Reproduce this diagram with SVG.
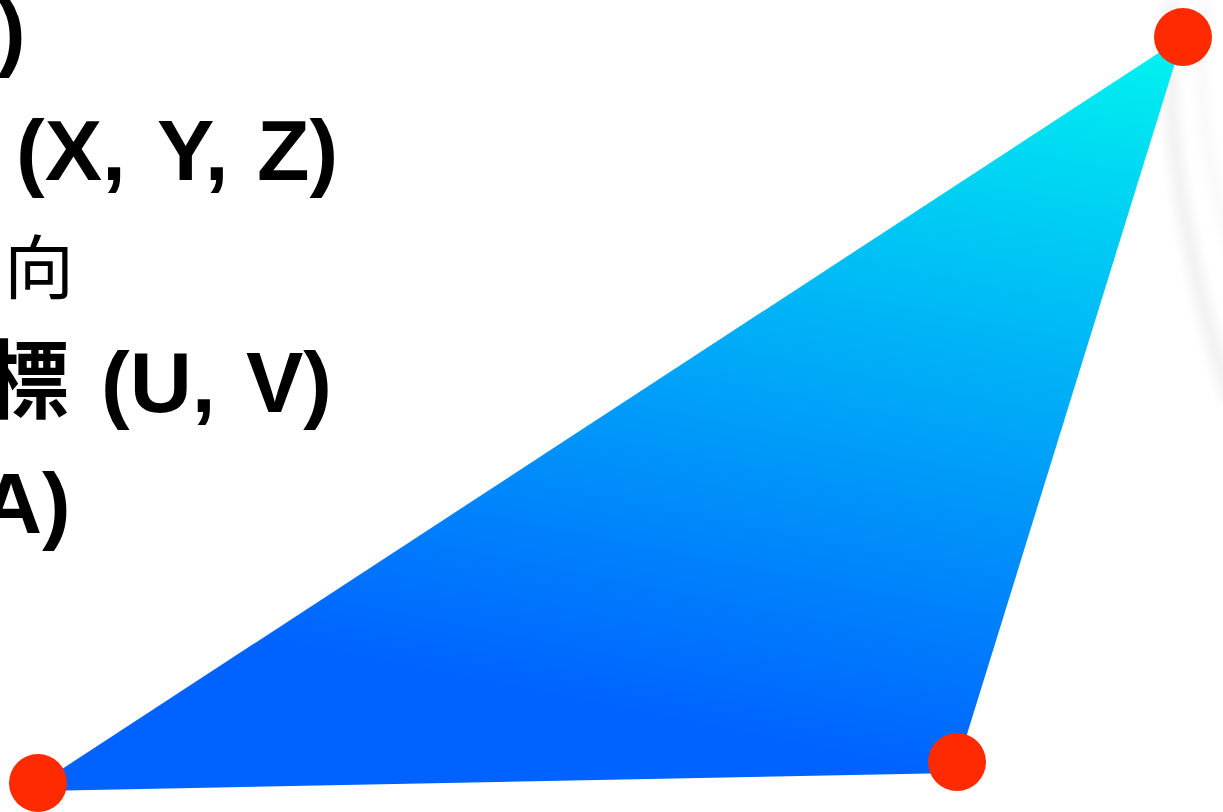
<svg xmlns="http://www.w3.org/2000/svg" width="1223" height="812" viewBox="0 0 1223 812">
  <style>
    .lbl { font-family: "Liberation Sans", "Noto Sans CJK TC", sans-serif; fill: #000; }
    .b { font-weight: bold; font-size: 86px; }
    .r { font-weight: normal; font-size: 70px; }
    .vtx { fill: #ff2a00; }
  </style>
  <defs>
    <linearGradient id="tri" gradientUnits="userSpaceOnUse" x1="1150" y1="37" x2="1000" y2="790">
      <stop offset="0" stop-color="#00f3f0"/>
      <stop offset="1" stop-color="#0062ff"/>
    </linearGradient>
    <filter id="blur" x="-50%" y="-50%" width="200%" height="200%">
      <feGaussianBlur stdDeviation="6"/>
    </filter>
  </defs>
  <rect width="1223" height="812" fill="#fff"/>
  <g id="shadow" filter="url(#blur)" fill="none" stroke="#e6e6e6">
    <path d="M1172,0 Q1158,170 1230,400" stroke-width="14" opacity="0.6"/>
    <path d="M1205,0 Q1190,120 1235,260" stroke-width="8" opacity="0.4"/>
  </g>
  <g id="triangle">
    <polygon points="1183,37 36,786 40,791 955,773" fill="url(#tri)"/>
  </g>
  <g id="labels">
    <text class="lbl b" x="-3" y="60">)</text>
    <text class="lbl b" y="180"><tspan x="16">(X,</tspan><tspan x="157">Y,</tspan><tspan x="257">Z)</tspan></text>
    <text class="lbl r" x="4" y="294">向</text>
    <text class="lbl b" y="412"><tspan x="-16">標</tspan><tspan x="101">(U,</tspan><tspan x="246">V)</tspan></text>
    <text class="lbl b" x="-20" y="533">A)</text>
  </g>
  <g id="v1"><circle class="vtx" cx="1183" cy="37" r="29"/></g>
  <g id="v2"><circle class="vtx" cx="38" cy="783" r="29"/></g>
  <g id="v3"><circle class="vtx" cx="957" cy="762" r="29"/></g>
</svg>
